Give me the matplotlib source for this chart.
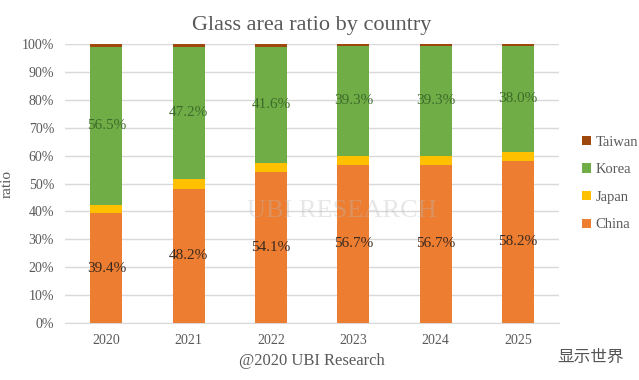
import matplotlib.pyplot as plt
import numpy as np

years = ['2020', '2021', '2022', '2023', '2024', '2025']
china = [39.4, 48.2, 54.1, 56.7, 56.7, 58.2]
japan = [3.0, 3.6, 3.4, 3.3, 3.3, 3.2]
korea = [56.5, 47.2, 41.6, 39.3, 39.3, 38.0]
taiwan = [1.1, 1.0, 0.9, 0.7, 0.7, 0.6]

colors = {'China': '#ED7D31', 'Japan': '#FFC000', 'Korea': '#70AD47', 'Taiwan': '#9E480E'}

plt.rcParams['font.family'] = ['Liberation Serif', 'DejaVu Serif']

fig = plt.figure(figsize=(6.39, 3.8), dpi=100)
ax = fig.add_axes([0.102, 0.15, 0.773, 0.734])

x = np.arange(len(years))
w = 0.39
b1 = ax.bar(x, china, w, color=colors['China'], label='China', zorder=3)
bottom = np.array(china)
b2 = ax.bar(x, japan, w, bottom=bottom, color=colors['Japan'], label='Japan', zorder=3)
bottom = bottom + np.array(japan)
b3 = ax.bar(x, korea, w, bottom=bottom, color=colors['Korea'], label='Korea', zorder=3)
bottom = bottom + np.array(korea)
b4 = ax.bar(x, taiwan, w, bottom=bottom, color=colors['Taiwan'], label='Taiwan', zorder=3)

ax.bar_label(b1, labels=[f'{v:.1f}%' for v in china], label_type='center',
             fontsize=11, color='#3a2a20', zorder=4)
ax.bar_label(b3, labels=[f'{v:.1f}%' for v in korea], label_type='center',
             fontsize=11, color='#3d6b2a', zorder=4)

# faint watermark
ax.text(0.56, 0.40, 'UBI RESEARCH', transform=ax.transAxes, ha='center', va='center',
        fontsize=19, color='#bbbbbb', alpha=0.35, zorder=5)

ax.set_xlim(-0.5, len(years) - 0.5)
ax.set_ylim(0, 100)
ax.set_yticks(np.arange(0, 101, 10))
ax.set_yticklabels([f'{v}%' for v in range(0, 101, 10)])
ax.set_xticks(x)
ax.set_xticklabels(years)
ax.yaxis.grid(True, color='#d9d9d9', linewidth=1, zorder=0)
for s in ['top', 'right', 'left']:
    ax.spines[s].set_visible(False)
ax.spines['bottom'].set_color('#d9d9d9')
ax.tick_params(axis='both', length=0, labelsize=10, colors='#595959', pad=8)

ax.set_title('Glass area ratio by country', fontsize=16, color='#595959', pad=10)
ax.set_ylabel('ratio', fontsize=11, color='#595959', labelpad=6)
ax.set_xlabel('@2020 UBI Research', fontsize=12, color='#595959', labelpad=4)

handles, labels = ax.get_legend_handles_labels()
leg = ax.legend(handles[::-1], labels[::-1], loc='center left', bbox_to_anchor=(1.02, 0.5),
                frameon=False, fontsize=10.5, handlelength=0.6, handleheight=0.6,
                handletextpad=0.3, labelspacing=1.0, labelcolor='#595959')

fig.text(0.925, 0.06, '显示世界', fontsize=12, color='#555555', ha='center', va='center',
         family=['Noto Sans CJK SC', 'DejaVu Sans'])

fig.savefig('out.png', dpi=100)
